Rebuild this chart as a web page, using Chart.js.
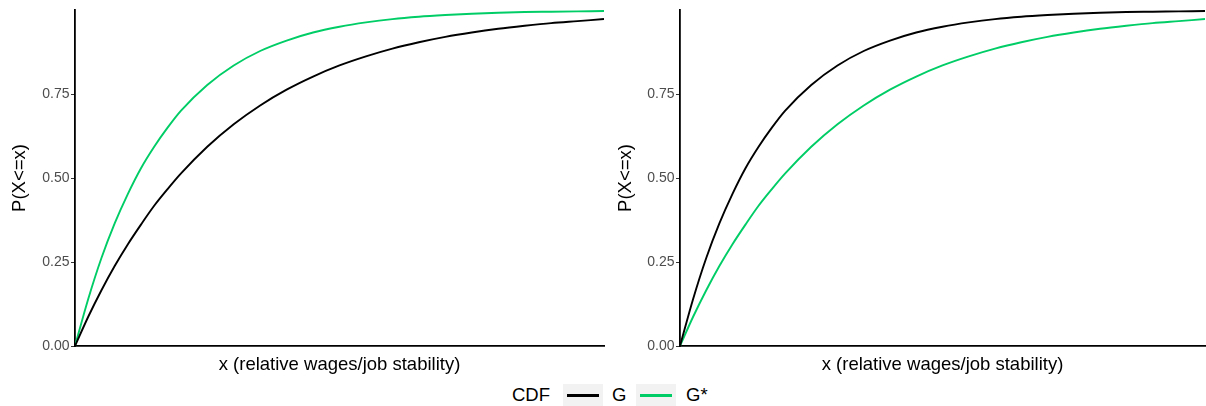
<!DOCTYPE html>
<html>
<head>
<meta charset="utf-8">
<script src="https://cdn.jsdelivr.net/npm/chart.js@4/dist/chart.umd.min.js"></script>
<style>
  html, body { margin: 0; padding: 0; background: #fff; }
  body { width: 1206px; height: 406px; position: relative; overflow: hidden;
         font-family: "Liberation Sans", Arial, sans-serif; }
  canvas { position: absolute; top: 0; }
  #c1 { left: 0; }
  #c2 { left: 606px; }
  .lg { position: absolute; font-size: 18.5px; color: #000; line-height: 22px; top: 384px; }
  .key { position: absolute; top: 384px; width: 40px; height: 22px; background: #f2f2f2; }
  .key i { position: absolute; left: 4px; right: 4px; top: 10px; height: 2.5px; display: block; }
</style>
</head>
<body>
<canvas id="c1" width="606" height="380"></canvas>
<canvas id="c2" width="600" height="380"></canvas>
<span class="lg" style="left:512px">CDF</span>
<span class="key" style="left:563px"><i style="background:#000"></i></span>
<span class="lg" style="left:612px">G</span>
<span class="key" style="left:636px"><i style="background:#00cd66"></i></span>
<span class="lg" style="left:686px">G*</span>
<script>
// x positions (relative wages/job stability, normalised 0..1)
const xValues = [0, 0.025, 0.05, 0.075, 0.1, 0.125, 0.15, 0.175, 0.2, 0.25, 0.3, 0.35, 0.4, 0.45, 0.5,
                 0.55, 0.6, 0.65, 0.7, 0.75, 0.8, 0.85, 0.9, 0.95, 1.0];
// left panel
const leftG     = [0, 0.087, 0.166, 0.238, 0.303, 0.362, 0.418, 0.467, 0.513, 0.593, 0.66, 0.716, 0.763, 0.802, 0.835,
                   0.862, 0.885, 0.904, 0.92, 0.933, 0.944, 0.953, 0.961, 0.967, 0.973];
const leftGstar = [0, 0.14, 0.262, 0.365, 0.453, 0.53, 0.594, 0.65, 0.70, 0.777, 0.835, 0.878, 0.909, 0.933, 0.95,
                   0.963, 0.973, 0.98, 0.985, 0.989, 0.992, 0.994, 0.995, 0.996, 0.997];
// right panel
const rightG     = [0, 0.14, 0.262, 0.365, 0.453, 0.53, 0.594, 0.65, 0.70, 0.777, 0.835, 0.878, 0.909, 0.933, 0.95,
                    0.963, 0.973, 0.98, 0.985, 0.989, 0.992, 0.994, 0.995, 0.996, 0.997];
const rightGstar = [0, 0.087, 0.166, 0.238, 0.303, 0.362, 0.418, 0.467, 0.513, 0.593, 0.66, 0.716, 0.763, 0.802, 0.835,
                    0.862, 0.885, 0.904, 0.92, 0.933, 0.944, 0.953, 0.961, 0.967, 0.973];
const yTicks = [0, 0.25, 0.5, 0.75];
const seriesNames = ['G', 'G*'];
const yTitle = 'P(X<=x)';
const xTitle = 'x (relative wages/job stability)';

const FONT = '"Liberation Sans", Arial, sans-serif';
const BLACK = '#000000';
const GREEN = '#00cd66';

function pts(ys) { return xValues.map((x, i) => ({ x: x, y: ys[i] })); }

function makeChart(id, gVals, gsVals, yWidth, padRight) {
  const canvasH = 380;
  const plotBottom = 346;
  return new Chart(document.getElementById(id), {
    type: 'line',
    data: {
      datasets: [
        { label: seriesNames[0], data: pts(gVals), borderColor: BLACK, borderWidth: 1.9,
          pointRadius: 0, cubicInterpolationMode: 'monotone', fill: false },
        { label: seriesNames[1], data: pts(gsVals), borderColor: GREEN, borderWidth: 1.9,
          pointRadius: 0, cubicInterpolationMode: 'monotone', fill: false }
      ]
    },
    options: {
      responsive: false,
      maintainAspectRatio: false,
      animation: false,
      devicePixelRatio: 1,
      layout: { padding: { top: 10, right: padRight, left: 0, bottom: 0 } },
      plugins: { legend: { display: false }, tooltip: { enabled: false } },
      scales: {
        x: {
          type: 'linear', min: 0, max: 1,
          ticks: { display: false },
          grid: { display: false, drawTicks: false },
          border: { display: true, color: BLACK, width: 1.8 },
          title: { display: true, text: xTitle, color: BLACK,
                   font: { family: FONT, size: 18.5 }, padding: { top: 0, bottom: 4 } },
          afterFit: (s) => { s.height = canvasH - plotBottom; }
        },
        y: {
          type: 'linear', min: 0, max: 1,
          afterBuildTicks: (s) => { s.ticks = yTicks.map(v => ({ value: v })); },
          ticks: { color: '#4d4d4d', font: { family: FONT, size: 14 }, padding: 1.5,
                   callback: (v) => Number(v).toFixed(2) },
          grid: { display: true, drawOnChartArea: false, drawTicks: true, tickLength: 4,
                  color: '#333333', lineWidth: 1 },
          border: { display: true, color: BLACK, width: 1.8 },
          title: { display: true, text: yTitle, color: BLACK,
                   font: { family: FONT, size: 18.5 }, padding: { top: 9, bottom: 0 } },
          afterFit: (s) => { s.width = yWidth; }
        }
      }
    }
  });
}

makeChart('c1', leftG, leftGstar, 75, 2);
makeChart('c2', rightG, rightGstar, 74, 1);
</script>
</body>
</html>
